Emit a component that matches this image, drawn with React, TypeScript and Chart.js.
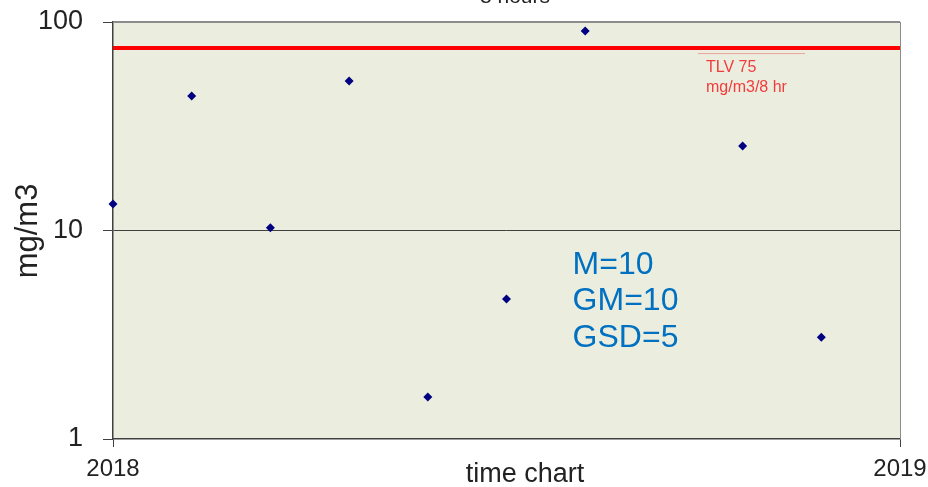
import React, { useEffect, useRef } from "react";
import { Chart, registerables } from "chart.js";

Chart.register(...registerables);

const sampleYears = [2018.0, 2018.1, 2018.2, 2018.3, 2018.4, 2018.5, 2018.6, 2018.8, 2018.9];
const sampleValues = [13.4, 44.2, 10.3, 52.1, 1.59, 4.69, 90.6, 25.4, 3.08];
const tlvValue = 75;
const xRange = [2018, 2019];
const yTicks = [1, 10, 100];
const statLines = ["M=10", "GM=10", "GSD=5"];
const tlvLabel = ["TLV 75", "mg/m3/8 hr"];
const titleText = "8 hours";
const xTitle = "time chart";
const yTitle = "mg/m3";

const FONT = "Arial, 'Liberation Sans', sans-serif";

const decorPlugin = {
  id: "decor",
  beforeDraw(chart: any) {
    const { ctx, chartArea: a } = chart;
    ctx.save();
    ctx.fillStyle = "#EBEEDF";
    ctx.fillRect(a.left, a.top, a.right - a.left, a.bottom - a.top);
    ctx.restore();
  },
  afterDraw(chart: any) {
    const { ctx, chartArea: a, scales } = chart;
    const xs = scales.x;
    const ys = scales.y;
    ctx.save();
    // frame
    ctx.strokeStyle = "#8c8c8c";
    ctx.lineWidth = 2;
    ctx.beginPath();
    ctx.moveTo(a.left, a.top);
    ctx.lineTo(a.right, a.top);
    ctx.stroke();
    ctx.lineWidth = 1;
    ctx.beginPath();
    ctx.moveTo(a.right + 0.5, a.top);
    ctx.lineTo(a.right + 0.5, a.bottom);
    ctx.stroke();
    // title (cut off at top)
    ctx.fillStyle = "#222";
    ctx.font = `21px ${FONT}`;
    ctx.textAlign = "center";
    ctx.textBaseline = "alphabetic";
    ctx.fillText(titleText, 515, 3);
    // axis titles
    ctx.font = `27px ${FONT}`;
    ctx.textBaseline = "middle";
    ctx.fillText(xTitle, 525, 475);
    ctx.save();
    ctx.translate(28, 231);
    ctx.rotate(-Math.PI / 2);
    ctx.font = `31px ${FONT}`;
    ctx.fillText(yTitle, 0, 0);
    ctx.restore();
    // TLV label
    const tx = xs.getPixelForValue(2018.7535);
    const ty = ys.getPixelForValue(tlvValue);
    ctx.strokeStyle = "rgba(240,130,130,0.7)";
    ctx.lineWidth = 1;
    ctx.beginPath();
    ctx.moveTo(tx - 8, ty + 5.5);
    ctx.lineTo(tx + 99, ty + 5.5);
    ctx.stroke();
    ctx.fillStyle = "#f23c3c";
    ctx.font = `16px ${FONT}`;
    ctx.textAlign = "left";
    ctx.textBaseline = "alphabetic";
    ctx.fillText(tlvLabel[0], tx, ty + 24);
    ctx.fillText(tlvLabel[1], tx, ty + 44);
    // stats
    ctx.fillStyle = "#0070C0";
    ctx.font = `32px ${FONT}`;
    ctx.textBaseline = "middle";
    const sx = xs.getPixelForValue(2018.584);
    statLines.forEach((t, i) => ctx.fillText(t, sx, 265 + i * 36.5));
    ctx.restore();
  },
};

export default function App() {
  const ref = useRef<HTMLCanvasElement>(null);
  useEffect(() => {
    const chart = new Chart(ref.current as HTMLCanvasElement, {
      type: "scatter",
      data: {
        datasets: [
          {
            type: "line",
            data: xRange.map((x) => ({ x, y: tlvValue })),
            borderColor: "#ff0000",
            borderWidth: 4,
            pointRadius: 0,
            order: 2,
          } as any,
          {
            data: sampleYears.map((x, i) => ({ x, y: sampleValues[i] })),
            pointStyle: "rectRot",
            pointRadius: 4.5,
            backgroundColor: "#000080",
            borderColor: "#000080",
            borderWidth: 0,
            clip: false,
            order: 1,
          } as any,
        ],
      },
      options: {
        animation: false,
        responsive: false,
        maintainAspectRatio: false,
        layout: { padding: { top: 22, right: 28, left: 0, bottom: 0 } },
        plugins: { legend: { display: false }, tooltip: { enabled: false }, title: { display: false } },
        scales: {
          x: {
            type: "linear",
            min: xRange[0],
            max: xRange[1],
            afterBuildTicks: (s: any) => {
              s.ticks = xRange.map((v) => ({ value: v }));
            },
            afterFit: (s: any) => {
              s.height = 48;
              s.paddingLeft = 0;
              s.paddingRight = 0;
            },
            ticks: {
              color: "#222",
              font: { family: FONT, size: 24 },
              padding: 8,
              maxRotation: 0,
              autoSkip: false,
              callback: (v: any) => String(v),
            },
            grid: { drawOnChartArea: false, tickLength: 8, tickColor: "#404040", color: "#404040" },
            border: { color: "#404040", width: 1.5 },
          },
          y: {
            type: "logarithmic",
            min: 1,
            max: 100,
            afterBuildTicks: (s: any) => {
              s.ticks = yTicks.map((v) => ({ value: v }));
            },
            afterFit: (s: any) => {
              s.width = 113;
              s.paddingTop = 0;
              s.paddingBottom = 0;
            },
            ticks: {
              color: "#222",
              font: { family: FONT, size: 27 },
              padding: 20,
              autoSkip: false,
              callback: (v: any) => String(v),
            },
            grid: {
              tickLength: 10,
              tickColor: "#404040",
              color: (c: any) => (c.tick && c.tick.value === 10 ? "#404040" : "rgba(0,0,0,0)"),
              lineWidth: 1,
            },
            border: { color: "#404040", width: 1.5 },
          },
        },
      },
      plugins: [decorPlugin],
    });
    return () => chart.destroy();
  }, []);
  return (
    <div style={{ position: "fixed", left: 0, top: 0, width: 928, height: 487, background: "#fff" }}>
      <canvas ref={ref} width={928} height={487} style={{ width: 928, height: 487 }} />
    </div>
  );
}
